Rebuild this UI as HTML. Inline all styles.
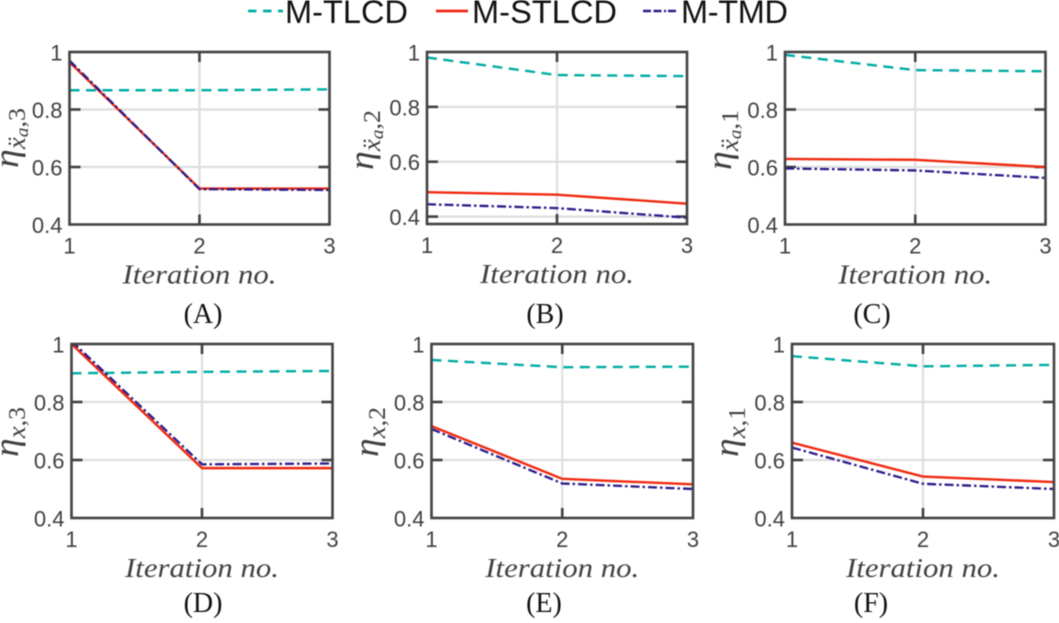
<!DOCTYPE html>
<html lang="en">
<head>
<meta charset="utf-8">
<title>Iteration charts</title>
<style>
html,body{margin:0;padding:0;background:#fff;width:1059px;height:623px;overflow:hidden}
svg{display:block;filter:blur(.45px)}
text{font-family:"Liberation Sans",sans-serif}
.tick{font-size:22px;fill:#404040}
.xl{font-family:"Liberation Serif",serif;font-style:italic;font-size:27px;fill:#404040}
.yl{font-family:"Liberation Serif",serif;fill:#404040}
.cap{font-family:"Liberation Serif",serif;font-size:28px;fill:#111;text-anchor:middle}
.leg{font-size:32.5px;fill:#111}
</style>
</head>
<body>
<svg id="chart" xmlns="http://www.w3.org/2000/svg" width="1059" height="623" viewBox="0 0 1059 623">
  <g>
    <g>
      <line x1="248" x2="283" y1="11" y2="11" stroke="#00aca5" stroke-width="2.8" stroke-dasharray="8.5 6.5"/>
      <text class="leg" x="285" y="23" textLength="123">M-TLCD</text>
    </g>
    <g>
      <line x1="436" x2="468" y1="11" y2="11" stroke="#f0290f" stroke-width="2.8"/>
      <text class="leg" x="472" y="23" textLength="145">M-STLCD</text>
    </g>
    <g>
      <line x1="643" x2="678" y1="11" y2="11" stroke="#2a1a8a" stroke-width="2.4" stroke-dasharray="8 2.5 8 2.5 2 2"/>
      <text class="leg" x="681" y="23" textLength="107">M-TMD</text>
    </g>
  </g>
</svg>
<script>
// ---- data ----
const iterations = [1, 2, 3];
const xTickLabels = ["1", "2", "3"];
const yTicks = [0.4, 0.6, 0.8, 1];
const yTickLabels = ["0.4", "0.6", "0.8", "1"];

const tlcdA = [0.867, 0.867, 0.870];
const stlcdA = [0.965, 0.525, 0.525];
const tmdA = [0.970, 0.523, 0.520];

const tlcdB = [0.980, 0.916, 0.912];
const stlcdB = [0.489, 0.480, 0.447];
const tmdB = [0.445, 0.431, 0.396];

const tlcdC = [0.990, 0.937, 0.933];
const stlcdC = [0.628, 0.625, 0.600];
const tmdC = [0.595, 0.588, 0.562];

const tlcdD = [0.899, 0.904, 0.907];
const stlcdD = [1.000, 0.572, 0.572];
const tmdD = [1.010, 0.585, 0.588];

const tlcdE = [0.945, 0.920, 0.922];
const stlcdE = [0.717, 0.535, 0.516];
const tmdE = [0.707, 0.519, 0.500];

const tlcdF = [0.958, 0.923, 0.928];
const stlcdF = [0.660, 0.543, 0.524];
const tmdF = [0.643, 0.518, 0.500];

// ---- layout ----
const panels = [
  {id:"a", cap:"(A)", capX:203, capY:323, L:69.5, R:329.5, T:52, B:224.5, yMin:0.4, sub:"x\u0308", acc:true, idx:"3", labX:18, labY:138, tlcd:tlcdA, stlcd:stlcdA, tmd:tmdA},
  {id:"b", cap:"(B)", capX:545, capY:323, L:427, R:687, T:52, B:224, yMin:0.373, sub:"x\u0308", acc:true, idx:"2", labX:373, labY:140, tlcd:tlcdB, stlcd:stlcdB, tmd:tmdB},
  {id:"c", cap:"(C)", capX:872, capY:323, L:785, R:1045.5, T:52, B:224.5, yMin:0.4, sub:"x\u0308", acc:true, idx:"1", labX:731, labY:140, tlcd:tlcdC, stlcd:stlcdC, tmd:tmdC},
  {id:"d", cap:"(D)", capX:203, capY:612, L:71.5, R:332.5, T:344, B:518, yMin:0.4, sub:"x", acc:false, idx:"3", labX:18, labY:432, tlcd:tlcdD, stlcd:stlcdD, tmd:tmdD},
  {id:"e", cap:"(E)", capX:544, capY:612, L:431.5, R:693, T:344, B:518, yMin:0.4, sub:"x", acc:false, idx:"2", labX:378, labY:432, tlcd:tlcdE, stlcd:stlcdE, tmd:tmdE},
  {id:"f", cap:"(F)", capX:871, capY:612, L:792, R:1054, T:344, B:518, yMin:0.4, sub:"x", acc:false, idx:"1", labX:738, labY:432, tlcd:tlcdF, stlcd:stlcdF, tmd:tmdF}
];

const NS = "http://www.w3.org/2000/svg";
const root = document.getElementById("chart");

function make(tag, props, parent) {
  const n = document.createElementNS(NS, tag);
  for (const k in props) n.setAttribute(k, props[k]);
  parent.appendChild(n);
  return n;
}

function spanIn(parent, text, size, dy, italic) {
  const s = document.createElementNS(NS, "tspan");
  s.setAttribute("font-size", size);
  s.setAttribute("dy", dy);
  s.setAttribute("font-style", italic ? "italic" : "normal");
  s.textContent = text;
  parent.appendChild(s);
}

panels.forEach(function (p) {
  const xScale = function (v) { return p.L + (v - 1) / 2 * (p.R - p.L); };
  const yScale = function (v) { return p.B - (v - p.yMin) / (1 - p.yMin) * (p.B - p.T); };

  const g = make("g", {}, root);
  
  

  const clipId = "clip-" + p.id;
  const defs = make("defs", {}, g);
  const clip = make("clipPath", {id: clipId}, defs);
  make("rect", {x: p.L, y: p.T, width: p.R - p.L, height: p.B - p.T}, clip);

  // grid lines
  yTicks.forEach(function (t) {
    if (t === 1 || yScale(t) > p.B - 2) return;
    const gl = make("line", {x1: p.L, x2: p.R, y1: yScale(t), y2: yScale(t), stroke: "#dedede", "stroke-width": 2.2}, g);
    
    
  });
  const vg = make("line", {x1: xScale(2), x2: xScale(2), y1: p.T, y2: p.B, stroke: "#dedede", "stroke-width": 2.2}, g);
  
  

  // tick marks
  yTicks.forEach(function (t) {
    const y = yScale(t);
    if (t !== 1 && y < p.B - 2) {
      const tl = make("line", {x1: p.L, x2: p.L + 11, y1: y, y2: y, stroke: "#404040", "stroke-width": 2.6}, g);
      
      
      const tr = make("line", {x1: p.R - 11, x2: p.R, y1: y, y2: y, stroke: "#404040", "stroke-width": 2.6}, g);
      
      
    }
    const lab = make("text", {class: "tick", x: p.L - 7, y: y + 8.5, "text-anchor": "end"}, g);
    lab.textContent = yTickLabels[yTicks.indexOf(t)];
    
    
  });
  iterations.forEach(function (v, i) {
    const x = xScale(v);
    if (v === 2) {
      const a = make("line", {x1: x, x2: x, y1: p.T, y2: p.T + 10, stroke: "#404040", "stroke-width": 2.6}, g);
      
      
      const b = make("line", {x1: x, x2: x, y1: p.B - 10, y2: p.B, stroke: "#404040", "stroke-width": 2.6}, g);
      
      
    }
    const lab = make("text", {class: "tick", x: x, y: p.B + 29, "text-anchor": "middle"}, g);
    lab.textContent = xTickLabels[i];
    
    
  });

  // series
  const path = function (vals) {
    return vals.map(function (v, i) { return xScale(iterations[i]) + "," + yScale(v); }).join(" ");
  };
  const teal = make("polyline", {points: path(p.tlcd), fill: "none", stroke: "#00aca5", "stroke-width": 2.4, "stroke-dasharray": "10 6.5", "clip-path": "url(#" + clipId + ")"}, g);
  
  
  const red = make("polyline", {points: path(p.stlcd), fill: "none", stroke: "#f0290f", "stroke-width": 2.4, "clip-path": "url(#" + clipId + ")"}, g);
  
  
  const navy = make("polyline", {points: path(p.tmd), fill: "none", stroke: "#2a1a8a", "stroke-width": 2.3, "stroke-dasharray": "9 3 2.5 3", "clip-path": "url(#" + clipId + ")"}, g);
  
  

  // frame
  const frame = make("rect", {x: p.L, y: p.T, width: p.R - p.L, height: p.B - p.T, fill: "none", stroke: "#424242", "stroke-width": 2.6}, g);
  
  

  // x axis title
  const xt = make("text", {class: "xl", x: (p.L + p.R) / 2, y: p.B + 59, "text-anchor": "middle", textLength: 154, lengthAdjust: "spacingAndGlyphs"}, g);
  xt.textContent = "Iteration no.";
  
  

  // y axis title
  const yt = make("text", {class: "yl", transform: "translate(" + p.labX + "," + p.labY + ") rotate(-90)", "text-anchor": "middle", textLength: p.acc ? 60 : 50, lengthAdjust: "spacingAndGlyphs"}, g);
  spanIn(yt, "\u03b7", 35, 0, true);
  spanIn(yt, p.sub, 25, 7, true);
  if (p.acc) {
    spanIn(yt, "a", 18, 3, true);
    spanIn(yt, ",", 24, -3, false);
  } else {
    spanIn(yt, ",", 24, 0, false);
  }
  spanIn(yt, p.idx, 24, 0, false);
  
  

  // caption
  const cap = make("text", {class: "cap", x: p.capX, y: p.capY}, g);
  cap.textContent = p.cap;
  
  
});
</script>
</body>
</html>
